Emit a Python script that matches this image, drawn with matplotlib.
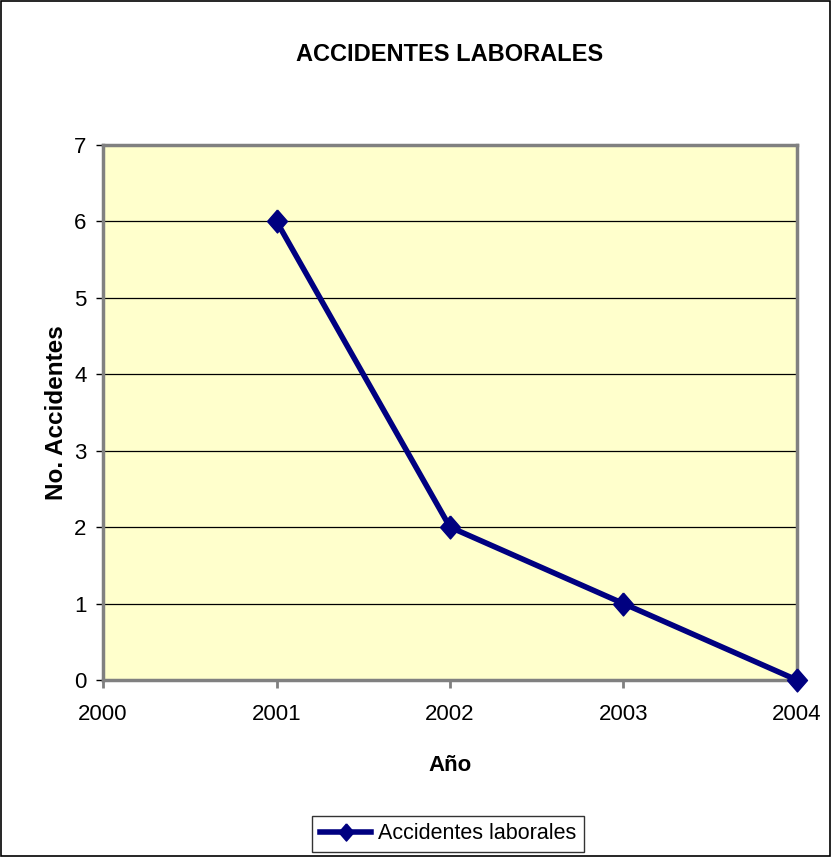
import matplotlib
matplotlib.use("Agg")
import matplotlib.pyplot as plt
from matplotlib.patches import Rectangle

years = [2001, 2002, 2003, 2004]
accidents = [6, 2, 1, 0]
x_ticks = [2000, 2001, 2002, 2003, 2004]
y_ticks = [0, 1, 2, 3, 4, 5, 6, 7]

plt.rcParams['font.family'] = ['Liberation Sans', 'DejaVu Sans']

# slightly tall diamond marker
diamond = [(0, 1), (0.87, 0), (0, -1), (-0.87, 0), (0, 1)]

fig = plt.figure(figsize=(8.31, 8.57), dpi=100)
fig.patch.set_facecolor('white')
fig.patches.append(Rectangle((0.001, 0.001), 0.998, 0.998, transform=fig.transFigure,
                             fill=False, edgecolor='black', linewidth=1.2))

ax = fig.add_axes([0.124, 0.2065, 0.835, 0.6245])
ax.set_facecolor('#FFFFCC')
ax.plot(years, accidents, color='#000080', linewidth=4, marker=diamond, markersize=16.5,
        label='Accidentes laborales', zorder=5, clip_on=False)

ax.set_xlim(2000, 2004)
ax.set_ylim(0, 7)
ax.set_xticks(x_ticks)
ax.set_yticks(y_ticks)
ax.grid(axis='y', color='black', linewidth=0.9)
ax.set_axisbelow(True)

for side in ['top', 'right', 'left', 'bottom']:
    ax.spines[side].set_color('#808080')
    ax.spines[side].set_linewidth(2.5)

ax.tick_params(axis='y', direction='out', length=5, width=1, color='black', labelsize=16, pad=7)
ax.tick_params(axis='x', direction='out', length=6, width=2, color='#808080', labelsize=16, pad=11)

ax.set_title('ACCIDENTES LABORALES', fontsize=17, fontweight='bold', pad=60)
ax.set_xlabel('Año', fontsize=16, fontweight='bold', labelpad=22)
ax.set_ylabel('No. Accidentes', fontsize=17.5, fontweight='bold', labelpad=4)

leg = ax.legend(loc='center', bbox_to_anchor=(0.497, -0.287), fontsize=15.5, frameon=True,
                fancybox=False, edgecolor='black', handlelength=2.4, handletextpad=0.3,
                borderpad=0.35, markerscale=0.75)
leg.get_frame().set_linewidth(1)

fig.savefig('out.png', dpi=100)
